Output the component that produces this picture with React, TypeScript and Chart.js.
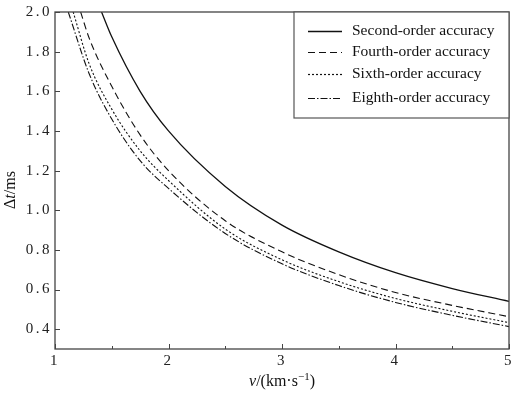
import React, { useEffect, useRef } from "react";
import { Chart, registerables } from "chart.js";
Chart.register(...registerables);

const seriesLabels = [
  "Second-order accuracy",
  "Fourth-order accuracy",
  "Sixth-order accuracy",
  "Eighth-order accuracy",
];
const secondV = [1.41, 1.5, 1.75, 2, 2.5, 3, 3.5, 4, 4.5, 5];
const secondDt = [2.0, 1.875, 1.6, 1.4, 1.12, 0.925, 0.79, 0.685, 0.605, 0.54];
const fourthV = [1.226, 1.3, 1.5, 1.75, 2, 2.5, 3, 3.5, 4, 4.5, 5];
const fourthDt = [2.0, 1.87, 1.625, 1.38, 1.2, 0.947, 0.79, 0.675, 0.585, 0.52, 0.463];
const sixthV = [1.16, 1.3, 1.5, 1.75, 2, 2.5, 3, 3.5, 4, 4.5, 5];
const sixthDt = [2.0, 1.74, 1.51, 1.3, 1.15, 0.905, 0.75, 0.64, 0.555, 0.49, 0.433];
const eighthV = [1.117, 1.3, 1.5, 1.75, 2, 2.5, 3, 3.5, 4, 4.5, 5];
const eighthDt = [2.0, 1.69, 1.46, 1.25, 1.11, 0.883, 0.73, 0.62, 0.535, 0.47, 0.413];

const xTickValues = [1, 1.5, 2, 2.5, 3, 3.5, 4, 4.5, 5];
const xLabelValues = [1, 2, 3, 4, 5];
const yTickValues = [0.4, 0.6, 0.8, 1.0, 1.2, 1.4, 1.6, 1.8, 2.0];

const dashes: number[][] = [[], [7, 4], [2, 2], [7, 2, 1.5, 2]];

const toPoints = (xs: number[], ys: number[]) => xs.map((x, i) => ({ x, y: ys[i] }));

const spacing = {
  id: "spacing",
  beforeDraw(chart: any) {
    (chart.ctx as any).letterSpacing = "2.5px";
  },
  beforeDatasetsDraw(chart: any) {
    (chart.ctx as any).letterSpacing = "0px";
  },
};

const deco = {
  id: "deco",
  afterDraw(chart: any) {
    const ctx = chart.ctx as CanvasRenderingContext2D;
    (ctx as any).letterSpacing = "0px";
    const a = chart.chartArea;
    const xs = chart.scales.x;
    const ys = chart.scales.y;
    ctx.save();
    // frame
    ctx.strokeStyle = "#444";
    ctx.lineWidth = 1.3;
    ctx.strokeRect(a.left, a.top, a.right - a.left, a.bottom - a.top);
    // ticks inward
    ctx.lineWidth = 1;
    xTickValues.forEach((v) => {
      const px = Math.round(xs.getPixelForValue(v)) + 0.5;
      const major = xLabelValues.includes(v);
      ctx.beginPath();
      ctx.moveTo(px, a.bottom);
      ctx.lineTo(px, a.bottom - (major ? 5 : 3));
      ctx.stroke();
    });
    yTickValues.forEach((v) => {
      const py = Math.round(ys.getPixelForValue(v)) + 0.5;
      ctx.beginPath();
      ctx.moveTo(a.left, py);
      ctx.lineTo(a.left + 5, py);
      ctx.stroke();
    });
    // legend
    const lx = 294, ly = a.top, lw = a.right - 294, lh = 106;
    ctx.fillStyle = "#fff";
    ctx.fillRect(lx, ly, lw, lh);
    ctx.strokeStyle = "#555";
    ctx.lineWidth = 1.2;
    ctx.strokeRect(lx, ly, lw, lh);
    const rows = [31, 52, 74, 98];
    ctx.font = "15.5px 'Liberation Serif', serif";
    ctx.textBaseline = "middle";
    ctx.textAlign = "left";
    chart.data.datasets.forEach((ds: any, i: number) => {
      const y = rows[i] + 0.5;
      ctx.strokeStyle = "#111";
      ctx.lineWidth = i === 0 ? 1.4 : 1.2;
      ctx.setLineDash(dashes[i]);
      ctx.beginPath();
      ctx.moveTo(308, y);
      ctx.lineTo(342, y);
      ctx.stroke();
      ctx.setLineDash([]);
      ctx.fillStyle = "#111";
      ctx.fillText(ds.label, 352, rows[i]);
    });
    // x title: v/(km·s^-1)
    ctx.fillStyle = "#111";
    ctx.textBaseline = "alphabetic";
    const fItal = "italic 16px 'Liberation Serif', serif";
    const fReg = "16px 'Liberation Serif', serif";
    const fSup = "11px 'Liberation Serif', serif";
    const parts: [string, string, number][] = [
      ["v", fItal, 0],
      ["/(km·s", fReg, 0],
      ["\u22121", fSup, -6],
      [")", fReg, 0],
    ];
    let total = 0;
    parts.forEach(([t, f]) => {
      ctx.font = f;
      total += ctx.measureText(t).width;
    });
    let cx = (a.left + a.right) / 2 - total / 2;
    const by = 386;
    parts.forEach(([t, f, dy]) => {
      ctx.font = f;
      ctx.fillText(t, cx, by + dy);
      cx += ctx.measureText(t).width;
    });
    // y title: Δt/ms
    ctx.save();
    ctx.translate(15, 190);
    ctx.rotate(-Math.PI / 2);
    const yparts: [string, string][] = [
      ["\u0394", fReg],
      ["t", fItal],
      ["/ms", fReg],
    ];
    let tw = 0;
    yparts.forEach(([t, f]) => {
      ctx.font = f;
      tw += ctx.measureText(t).width;
    });
    let yx = -tw / 2;
    yparts.forEach(([t, f]) => {
      ctx.font = f;
      ctx.fillText(t, yx, 0);
      yx += ctx.measureText(t).width;
    });
    ctx.restore();
    ctx.restore();
  },
};

export default function App() {
  const ref = useRef<HTMLCanvasElement>(null);
  useEffect(() => {
    document.body.style.margin = "0";
    const allV = [secondV, fourthV, sixthV, eighthV];
    const allDt = [secondDt, fourthDt, sixthDt, eighthDt];
    const chart = new Chart(ref.current as HTMLCanvasElement, {
      type: "line",
      data: {
        datasets: seriesLabels.map((label, i) => ({
          label,
          data: toPoints(allV[i], allDt[i]),
          borderColor: "#111",
          borderWidth: i === 0 ? 1.3 : 1.1,
          borderDash: dashes[i],
          pointRadius: 0,
          fill: false,
          cubicInterpolationMode: "monotone" as const,
        })),
      },
      options: {
        responsive: false,
        animation: false,
        layout: { padding: { left: 0, right: 9, top: 11, bottom: 0 } },
        plugins: { legend: { display: false }, tooltip: { enabled: false } },
        scales: {
          x: {
            type: "linear",
            min: 1,
            max: 5,
            grid: { display: false, drawTicks: false },
            border: { display: false },
            afterBuildTicks: (s: any) => {
              s.ticks = xTickValues.map((value) => ({ value }));
            },
            afterFit: (s: any) => {
              s.height = 47;
            },
            ticks: {
              autoSkip: false,
              maxRotation: 0,
              padding: 3,
              color: "#222",
              font: { family: "'Liberation Serif', serif", size: 15 },
              callback: (v: any) => (xLabelValues.includes(Number(v)) ? String(v) : ""),
            },
          },
          y: {
            type: "linear",
            min: 0.3,
            max: 2.0,
            grid: { display: false, drawTicks: false },
            border: { display: false },
            afterBuildTicks: (s: any) => {
              s.ticks = yTickValues.map((value) => ({ value }));
            },
            afterFit: (s: any) => {
              s.width = 55;
            },
            ticks: {
              autoSkip: false,
              padding: 3,
              color: "#222",
              font: { family: "'Liberation Serif', serif", size: 15 },
              callback: (v: any) => Number(v).toFixed(1),
            },
          },
        },
      },
      plugins: [spacing, deco],
    });
    return () => chart.destroy();
  }, []);
  return (
    <div style={{ position: "fixed", left: 0, top: 0, width: 518, height: 396, background: "#fff" }}>
      <canvas ref={ref} width={518} height={396} />
    </div>
  );
}
